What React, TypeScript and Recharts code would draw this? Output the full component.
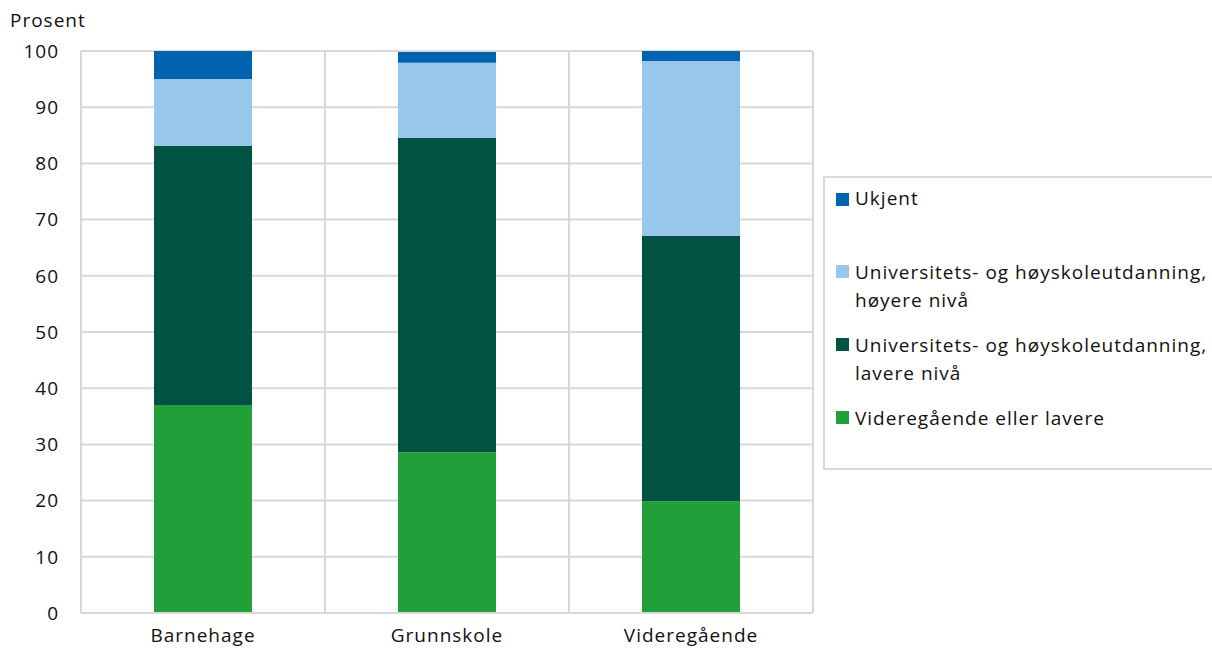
import { BarChart, Bar, XAxis, YAxis, CartesianGrid } from 'recharts'

const categories = ['Barnehage', 'Grunnskole', 'Videregående']
const videregaende = [37.0, 28.6, 19.9]
const lavereNiva = [46.1, 55.9, 47.2]
const hoyereNiva = [11.9, 13.4, 31.1]
const ukjent = [5.0, 1.9, 1.8]
const yTicks = [0, 10, 20, 30, 40, 50, 60, 70, 80, 90, 100]

const series = [
  { key: 'videregaende', name: 'Videregående eller lavere', color: '#21a03a', values: videregaende },
  { key: 'lavere', name: 'Universitets- og høyskoleutdanning, lavere nivå', color: '#005342', values: lavereNiva },
  { key: 'hoyere', name: 'Universitets- og høyskoleutdanning, høyere nivå', color: '#97c7eb', values: hoyereNiva },
  { key: 'ukjent', name: 'Ukjent', color: '#0063af', values: ukjent },
]

const data = categories.map((c, i) => {
  const row: Record<string, string | number> = { name: c }
  series.forEach((s) => (row[s.key] = s.values[i]))
  return row
})

const FONT = '"Open Sans", "Noto Sans", sans-serif'
const TEXT = { fontFamily: FONT, fontSize: 19, letterSpacing: 1, color: '#111' }
const tickStyle = { fill: '#111', fontSize: 19, fontFamily: FONT, letterSpacing: 1 }

// legend labels split onto lines the way the original wraps them
const legendLines: Record<string, string[]> = {
  ukjent: ['Ukjent'],
  hoyere: ['Universitets- og høyskoleutdanning,', 'høyere nivå'],
  lavere: ['Universitets- og høyskoleutdanning,', 'lavere nivå'],
  videregaende: ['Videregående eller lavere'],
}

function LegendBox() {
  const items = [...series].reverse()
  const squareTops = [193, 265, 338, 411]
  const textTops = [184, 258, 331, 404]
  return (
    <>
      <div
        style={{
          position: 'absolute',
          left: 823,
          top: 176,
          width: 400,
          height: 290,
          border: '2px solid #d9d9d9',
          borderRight: 'none',
        }}
      />
      {items.map((s, i) => (
        <div key={s.key}>
          <span
            style={{ position: 'absolute', left: 836, top: squareTops[i], width: 13, height: 13, background: s.color }}
          />
          <div style={{ ...TEXT, position: 'absolute', left: 855, top: textTops[i], lineHeight: '28px', whiteSpace: 'nowrap' }}>
            {legendLines[s.key].map((l) => (
              <div key={l}>{l}</div>
            ))}
          </div>
        </div>
      ))}
    </>
  )
}

export default function App() {
  return (
    <div style={{ position: 'fixed', left: 0, top: 0, width: 1212, height: 648, background: '#fff', overflow: 'hidden' }}>
      <div style={{ ...TEXT, position: 'absolute', left: 10, top: 7 }}>Prosent</div>
      <BarChart
        width={1212}
        height={648}
        data={data}
        margin={{ top: 51, right: 399, bottom: 0, left: 0 }}
        barSize={98}
      >
        <CartesianGrid
          stroke="#d9d9d9"
          strokeWidth={2}
          horizontalValues={yTicks}
          verticalCoordinatesGenerator={({ offset }: any) => {
            const w = offset.width / categories.length
            return [0, 1, 2, 3].map((i) => offset.left + i * w)
          }}
        />
        <XAxis
          dataKey="name"
          height={35}
          axisLine={{ stroke: '#d9d9d9', strokeWidth: 2 }}
          tickLine={false}
          tick={tickStyle}
          tickMargin={10}
          interval={0}
        />
        <YAxis
          width={81}
          domain={[0, 100]}
          ticks={yTicks}
          axisLine={{ stroke: '#d9d9d9', strokeWidth: 2 }}
          tickLine={false}
          tick={tickStyle}
          tickMargin={16}
        />
        {series.map((s) => (
          <Bar key={s.key} dataKey={s.key} name={s.name} stackId="a" fill={s.color} isAnimationActive={false} />
        ))}
      </BarChart>
      <LegendBox />
    </div>
  )
}
